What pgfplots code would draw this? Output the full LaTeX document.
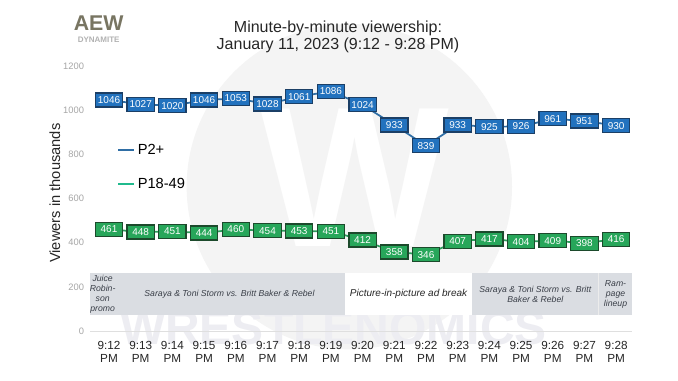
\documentclass[border=0pt]{standalone}
\usepackage{pgfplots}
\pgfplotsset{compat=1.18}
\usepackage{fontspec}
\setmainfont{Liberation Sans}
\definecolor{bfill}{HTML}{2272BE}
\definecolor{bdraw}{HTML}{1B3F66}
\definecolor{bline}{HTML}{2F6EA5}
\definecolor{gfill}{HTML}{27A65A}
\definecolor{gdraw}{HTML}{1C4A2C}
\definecolor{gline}{HTML}{2E9C5C}
\definecolor{band}{HTML}{DADDE2}
\definecolor{bandtext}{HTML}{3A3F48}
\begin{document}
\begin{tikzpicture}
\useasboundingbox[fill=white] (0pt,0pt) rectangle (508.5pt,285pt);
% watermark
\fill[gray!9] (262pt,145pt) circle (122pt);
\node[white,font=\bfseries\fontsize{150}{150}\selectfont] at (266pt,152pt) {W};
\node[blue!15!gray!12,font=\bfseries\fontsize{36}{36}\selectfont] at (250pt,39pt) {WRESTLENOMICS};
% logo
\node[font=\bfseries\fontsize{16}{16}\selectfont, text=gray!70!yellow!60!black] at (74pt,268pt) {AEW};
\node[font=\bfseries\fontsize{6}{6}\selectfont, text=gray!60] at (74pt,255pt) {DYNAMITE};
% title
\node[align=center,font=\fontsize{12}{13}\selectfont, text=black!85] at (253.5pt,257.6pt) {Minute-by-minute viewership:\\January 11, 2023 (9:12 - 9:28 PM)};
\begin{axis}[
  at={(67.5pt,36.75pt)}, anchor=south west,
  scale only axis, width=406.5pt, height=198.75pt,
  xmin=-0.6, xmax=16.5, ymin=0, ymax=1200,
  axis line style={draw=none},
  tick style={draw=none},
  clip=false,
  /pgf/number format/1000 sep={},
  /pgf/number format/assume math mode=true,
  xtick={0,...,16},
  xticklabels={{9:12\\PM},{9:13\\PM},{9:14\\PM},{9:15\\PM},{9:16\\PM},{9:17\\PM},{9:18\\PM},{9:19\\PM},{9:20\\PM},{9:21\\PM},{9:22\\PM},{9:23\\PM},{9:24\\PM},{9:25\\PM},{9:26\\PM},{9:27\\PM},{9:28\\PM}},
  xticklabel style={align=center, font=\fontsize{8.8}{10.2}\selectfont, text=black!85, yshift=-4pt},
  ytick={0,200,...,1200},
  yticklabel style={font=\fontsize{7}{8}\selectfont, text=gray!70, xshift=-1pt},
  major tick length=0pt,
  ylabel={Viewers in thousands},
  ylabel style={at={(axis description cs:-0.065,0.52)}, anchor=center, rotate=0, font=\fontsize{11}{12}\selectfont, text=black!85},
  legend style={at={(axis cs:0.12,870)}, anchor=north west, draw=none, fill=none,
    font=\fontsize{11}{12}\selectfont, row sep=12.5pt, cells={anchor=west}},
  legend cell align=left,
  legend image code/.code={\draw[#1] (0pt,0.4pt) -- (12pt,0.4pt);},
]
% band
\addplot[fill=band, draw=none, forget plot] coordinates {(-0.6,71) (16.5,71) (16.5,262) (-0.6,262)} -- cycle;
\addplot[fill=white, draw=none, forget plot] coordinates {(7.45,71) (11.45,71) (11.45,262) (7.45,262)} -- cycle;
\addplot[draw=white!85!gray, line width=0.6pt, forget plot] coordinates {(15.45,71) (15.45,262)};
\addplot[draw=gray!25, line width=0.6pt, forget plot] coordinates {(-0.6,0) (16.5,0)};
\node[font=\itshape\fontsize{6.5}{7.5}\selectfont, text=bandtext, align=center] at (axis cs:-0.2,166) {Juice\\Robin-\\son\\promo};
\node[font=\itshape\fontsize{6.5}{8}\selectfont, text=bandtext] at (axis cs:3.8,166) {Saraya \& Toni Storm vs. Britt Baker \& Rebel};
\node[font=\itshape\fontsize{7.5}{9}\selectfont, text=black!85] at (axis cs:9.45,166) {Picture-in-picture ad break};
\node[font=\itshape\fontsize{6.5}{8}\selectfont, text=bandtext, align=center] at (axis cs:13.45,166) {Saraya \& Toni Storm vs. Britt\\Baker \& Rebel};
\node[font=\itshape\fontsize{6.5}{7.5}\selectfont, text=bandtext, align=center] at (axis cs:15.98,166) {Ram-\\page\\lineup};
% legend images
\addlegendimage{draw=bline, line width=1.5pt}
\addlegendentry{P2+}
\addlegendimage{draw=gline!70!cyan, line width=1.5pt}
\addlegendentry{P18-49}
% P2+
\addplot[bline, line width=1.3pt, mark=none, forget plot,
  nodes near coords,
  every node near coord/.append style={anchor=center, fill=bfill, draw=bdraw, line width=0.9pt, text=white,
    font=\fontsize{7.5}{8}\selectfont, inner sep=1pt, minimum width=20.5pt, minimum height=10.5pt}]
coordinates {(0,1046) (1,1027) (2,1020) (3,1046) (4,1053) (5,1028) (6,1061) (7,1086) (8,1024) (9,933) (10,839) (11,933) (12,925) (13,926) (14,961) (15,951) (16,930)};
% P18-49
\addplot[gline, line width=1.3pt, mark=none, forget plot,
  nodes near coords,
  every node near coord/.append style={anchor=center, fill=gfill, draw=gdraw, line width=0.9pt, text=white,
    font=\fontsize{7.5}{8}\selectfont, inner sep=1pt, minimum width=20.5pt, minimum height=10.5pt}]
coordinates {(0,461) (1,448) (2,451) (3,444) (4,460) (5,454) (6,453) (7,451) (8,412) (9,358) (10,346) (11,407) (12,417) (13,404) (14,409) (15,398) (16,416)};
\end{axis}
\end{tikzpicture}
\end{document}
